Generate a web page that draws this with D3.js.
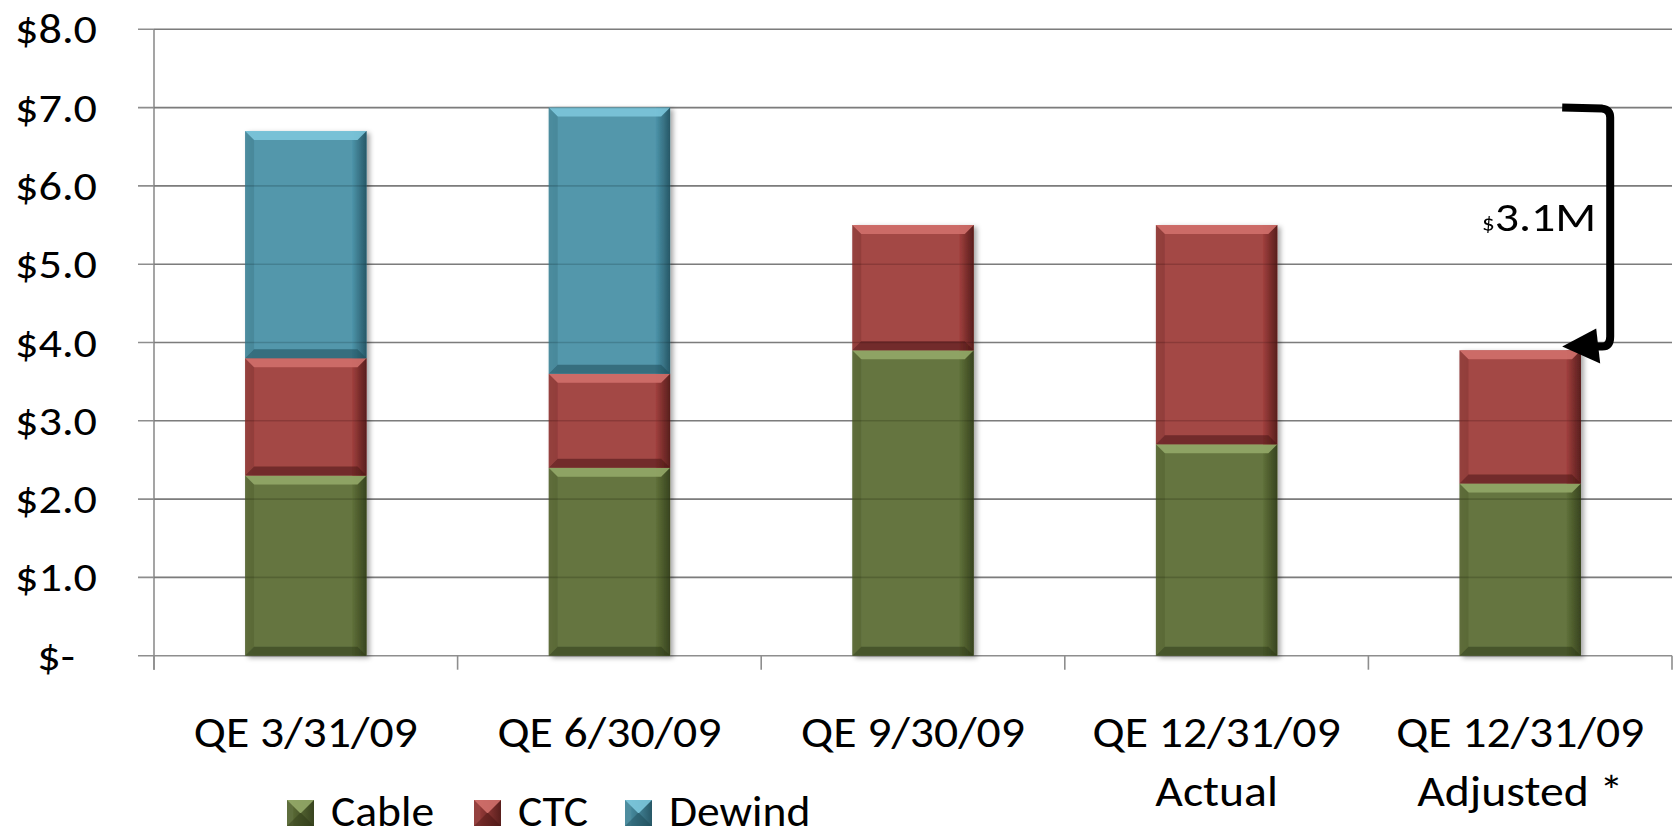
<!DOCTYPE html>
<html>
<head>
<meta charset="utf-8">
<script src="https://cdn.jsdelivr.net/npm/d3@7"></script>
<style>
  body { margin: 0; background: #fff; }
  svg { display: block; font-family: Carlito, Calibri, Lato, sans-serif; }
</style>
</head>
<body>
<div id="chart"></div>
<script>
// chart data
var categories = ["QE 3/31/09", "QE 6/30/09", "QE 9/30/09", "QE 12/31/09 Actual", "QE 12/31/09 Adjusted *"];
var labelLines = [["QE 3/31/09"], ["QE 6/30/09"], ["QE 9/30/09"], ["QE 12/31/09", "Actual"], ["QE 12/31/09", "Adjusted *"]];
var seriesNames = ["Cable", "CTC", "Dewind"];
var cable = [2.3, 2.4, 3.9, 2.7, 2.2];
var ctc = [1.5, 1.2, 1.6, 2.8, 1.7];
var dewind = [2.9, 3.4, 0, 0, 0];
var yTicks = [0, 1, 2, 3, 4, 5, 6, 7, 8];
var yTickLabels = ["$-", "$1.0", "$2.0", "$3.0", "$4.0", "$5.0", "$6.0", "$7.0", "$8.0"];
var noteFrom = 7.0, noteTo = 3.95;

var colors = {
  Cable: { base: "#5f7038", light: "#93a868", dark: "#2f3a18" },
  CTC: { base: "#a03e3c", light: "#d0706c", dark: "#4a1614" },
  Dewind: { base: "#4b93a9", light: "#7cc6dc", dark: "#1f4c5a" }
};

var svgWidth = 1677, svgHeight = 838;
var plot = { left: 154, right: 1672, top: 29.3, bottom: 655.7 };

var svg = d3.select("#chart").append("svg")
  .attr("width", svgWidth)
  .attr("height", svgHeight);

var defs = svg.append("defs");
var shadow = defs.append("filter").attr("id", "shadow")
  .attr("x", "-20%").attr("y", "-10%").attr("width", "140%").attr("height", "120%");
shadow.append("feDropShadow")
  .attr("dx", 3).attr("dy", 2).attr("stdDeviation", 2.5)
  .attr("flood-color", "#000").attr("flood-opacity", 0.35);

// right edge gradient per series
seriesNames.forEach(function(s) {
  var g = defs.append("linearGradient").attr("id", "side-" + s)
    .attr("x1", 0).attr("x2", 1).attr("y1", 0).attr("y2", 0);
  g.append("stop").attr("offset", "0%").attr("stop-color", colors[s].base);
  g.append("stop").attr("offset", "100%").attr("stop-color", colors[s].dark);
});

var xScale = d3.scaleBand()
  .domain(categories)
  .range([plot.left, plot.right])
  .paddingInner(0.6)
  .paddingOuter(0.3);

var yScale = d3.scaleLinear()
  .domain([0, 8])
  .range([plot.bottom, plot.top]);

var step = xScale.step();

// gridlines
svg.append("g").selectAll("line")
  .data(yTicks)
  .enter().append("line")
  .attr("x1", plot.left - 16)
  .attr("x2", plot.right)
  .attr("y1", d => yScale(d))
  .attr("y2", d => yScale(d))
  .attr("stroke", "#8e8e8e")
  .attr("stroke-width", 1.6);

// y axis line
svg.append("line")
  .attr("x1", plot.left).attr("x2", plot.left)
  .attr("y1", yScale(8)).attr("y2", plot.bottom + 14)
  .attr("stroke", "#8e8e8e").attr("stroke-width", 1.6);

// x ticks between categories
svg.append("g").selectAll("line")
  .data(d3.range(categories.length + 1))
  .enter().append("line")
  .attr("x1", i => plot.left + i * step)
  .attr("x2", i => plot.left + i * step)
  .attr("y1", plot.bottom)
  .attr("y2", plot.bottom + 14)
  .attr("stroke", "#8e8e8e").attr("stroke-width", 1.6);

// y labels
svg.append("g").selectAll("text")
  .data(yTicks)
  .enter().append("text")
  .attr("transform", d => `translate(56,${yScale(d) + 14}) scale(1.1,1)`)
  .attr("text-anchor", "middle")
  .style("font-size", "42px")
  .attr("fill", "#000")
  .text((d, i) => yTickLabels[i]);

// stacked data
var table = categories.map(function(c, i) {
  return { cat: c, Cable: cable[i], CTC: ctc[i], Dewind: dewind[i] };
});
var stacked = d3.stack().keys(seriesNames)(table);

function bevelBox(g, x, y, w, h, s, b) {
  var c = colors[s];
  g.append("rect").attr("x", x).attr("y", y).attr("width", w).attr("height", h)
    .attr("fill", c.base).attr("fill-opacity", 0.93);
  // right side darkening
  g.append("rect").attr("x", x + w - b * 1.6).attr("y", y).attr("width", b * 1.6).attr("height", h)
    .attr("fill", "url(#side-" + s + ")").attr("opacity", 0.85);
  // top bevel
  g.append("polygon")
    .attr("points", [[x, y], [x + w, y], [x + w - b, y + b], [x + b, y + b]].join(" "))
    .attr("fill", c.light).attr("opacity", 0.9);
  // bottom bevel
  g.append("polygon")
    .attr("points", [[x, y + h], [x + w, y + h], [x + w - b, y + h - b], [x + b, y + h - b]].join(" "))
    .attr("fill", c.dark).attr("opacity", 0.55);
  // left bevel
  g.append("polygon")
    .attr("points", [[x, y], [x + b, y + b], [x + b, y + h - b], [x, y + h]].join(" "))
    .attr("fill", c.dark).attr("opacity", 0.18);
}

var bars = svg.append("g").attr("filter", "url(#shadow)");
stacked.forEach(function(layer) {
  layer.forEach(function(d, i) {
    if (d[1] - d[0] <= 0) return;
    var x = xScale(categories[i]);
    var y = yScale(d[1]);
    var h = yScale(d[0]) - yScale(d[1]);
    bevelBox(bars.append("g"), x, y, xScale.bandwidth(), h, layer.key, 9);
  });
});

// faint gridlines showing through the bars
svg.append("g").selectAll("line")
  .data(yTicks.filter(d => d > 0))
  .enter().append("line")
  .attr("x1", plot.left).attr("x2", plot.right)
  .attr("y1", d => yScale(d)).attr("y2", d => yScale(d))
  .attr("stroke", "#000").attr("stroke-opacity", 0.12).attr("stroke-width", 1.6);

// category labels
var catLabels = svg.append("g").selectAll("text")
  .data(categories)
  .enter().append("text")
  .attr("transform", c => `translate(${xScale(c) + xScale.bandwidth() / 2},747) scale(1.11,1)`)
  .attr("text-anchor", "middle")
  .style("font-size", "43px")
  .attr("fill", "#000");
catLabels.each(function(c, i) {
  var t = d3.select(this);
  labelLines[i].forEach(function(line, j) {
    t.append("tspan")
      .attr("x", 0)
      .attr("y", j * 59)
      .text(line);
  });
});

// bracket annotation on last bar
var lastX = xScale(categories[4]) + xScale.bandwidth() / 2;
var yTop = yScale(noteFrom), yBot = yScale(noteTo);
var vx = lastX + 90;
svg.append("path")
  .attr("d", `M${lastX + 42},${yTop} L${vx - 8},${yTop + 1} Q${vx},${yTop + 2} ${vx},${yTop + 10} L${vx},${yBot - 10} Q${vx},${yBot} ${vx - 8},${yBot} L${lastX + 60},${yBot}`)
  .attr("fill", "none")
  .attr("stroke", "#000")
  .attr("stroke-width", 8);
svg.append("polygon")
  .attr("points", [[lastX + 42, yBot], [lastX + 76, yBot - 18], [lastX + 80, yBot + 17]].join(" "))
  .attr("fill", "#000");

var note = svg.append("text")
  .attr("transform", `translate(${vx - 14},${yScale(5.42)}) scale(1.14,1)`)
  .attr("text-anchor", "end")
  .attr("fill", "#000");
note.append("tspan").style("font-size", "22px").text("$");
note.append("tspan").style("font-size", "42px").text("3.1M");

// legend
var legendX = [287, 474, 625];
var legend = svg.append("g");
seriesNames.forEach(function(s, i) {
  var g = legend.append("g");
  bevelBox(g, legendX[i], 800, 27, 26, s, 13);
  legend.append("text")
    .attr("transform", `translate(${legendX[i] + 44},826) scale(1.06,1)`)
    .style("font-size", "43px")
    .attr("fill", "#000")
    .text(s);
});
</script>
</body>
</html>
